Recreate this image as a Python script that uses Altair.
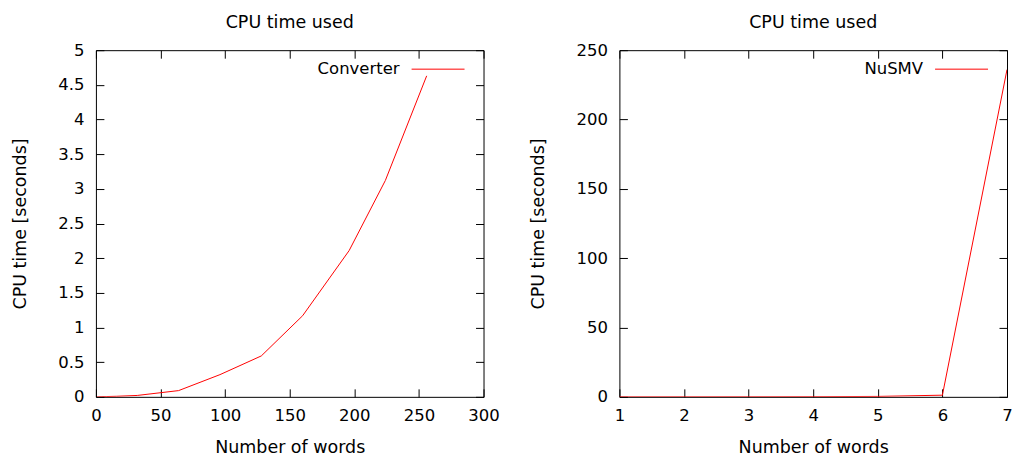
import altair as alt
import pandas as pd

# ---- data ----
conv_words = [1, 2, 4, 8, 16, 32, 64, 96, 128, 160, 196, 224, 256]
conv_time = [0.0, 0.0, 0.001, 0.004, 0.008, 0.02, 0.09, 0.32, 0.59, 1.17, 2.11, 3.12, 4.63]

nusmv_words = [1, 2, 3, 4, 5, 6, 7]
nusmv_time = [0.01, 0.02, 0.05, 0.1, 0.3, 1.2, 236]

conv_xticks = [0, 50, 100, 150, 200, 250, 300]
conv_yticks = [0, 0.5, 1, 1.5, 2, 2.5, 3, 3.5, 4, 4.5, 5]
nusmv_xticks = [1, 2, 3, 4, 5, 6, 7]
nusmv_yticks = [0, 50, 100, 150, 200, 250]

TITLE = "CPU time used"
XTITLE = "Number of words"
YTITLE = "CPU time [seconds]"

FONT = "DejaVu Sans"
FS = 16.5
TFS = 17.5
W, H = 388, 347
TICK = 8


def panel(words, times, name, xdom, ydom, xticks, yticks):
    df = pd.DataFrame({"words": words, "time": times})
    xs = alt.Scale(domain=xdom, nice=False, zero=False)
    ys = alt.Scale(domain=ydom, nice=False, zero=False)
    base = alt.Chart(df)

    line = base.mark_line(color="#ff0000", strokeWidth=1, clip=True).encode(
        x=alt.X("words:Q", scale=xs, axis=alt.Axis(
            orient="bottom", values=xticks, title=XTITLE, offset=-TICK, format="~r",
            tickSize=TICK, ticks=True, tickColor="#000", tickWidth=1,
            domain=False, grid=False, labelPadding=11, titlePadding=14,
            labelFlush=False, labelOverlap=False)),
        y=alt.Y("time:Q", scale=ys, axis=alt.Axis(
            orient="left", values=yticks, title=YTITLE, offset=-TICK, format="~r",
            tickSize=TICK, ticks=True, tickColor="#000", tickWidth=1,
            domain=False, grid=False, labelPadding=12, titlePadding=28,
            labelFlush=False, labelOverlap=False)),
    )

    mirror = base.mark_line(opacity=0).encode(
        x=alt.X("words:Q", scale=xs, axis=alt.Axis(
            orient="top", values=xticks, title=None, labels=False, offset=-TICK,
            tickSize=TICK, tickColor="#000", domain=False, grid=False)),
        y=alt.Y("time:Q", scale=ys, axis=alt.Axis(
            orient="right", values=yticks, title=None, labels=False, offset=-TICK,
            tickSize=TICK, tickColor="#000", domain=False, grid=False)),
    )

    key = pd.DataFrame({"label": [name]})
    key_text = alt.Chart(key).mark_text(
        align="right", baseline="middle", font=FONT, fontSize=FS, color="#000"
    ).encode(text="label:N", x=alt.value(W - 84), y=alt.value(19))
    key_line = alt.Chart(key).mark_rule(color="#ff0000", strokeWidth=1).encode(
        x=alt.value(W - 72), x2=alt.value(W - 19), y=alt.value(19)
    )

    return alt.layer(line, mirror, key_text, key_line).resolve_axis(
        x="independent", y="independent"
    ).properties(
        width=W, height=H,
        title=alt.TitleParams(TITLE, font=FONT, fontSize=TFS, fontWeight="normal",
                              color="#000", anchor="middle", offset=11),
    )


left = panel(conv_words, conv_time, "Converter", [0, 300], [0, 5],
             conv_xticks, conv_yticks)
right = panel(nusmv_words, nusmv_time, "NuSMV", [1, 7], [0, 250],
              nusmv_xticks, nusmv_yticks)

chart = alt.hconcat(left, right, spacing=29).configure(
    background="white",
    padding={"left": 3, "top": 5, "right": 0, "bottom": 0},
).configure_view(
    stroke="#000", strokeWidth=1
).configure_axis(
    labelFont=FONT, labelFontSize=FS, labelColor="#000",
    titleFont=FONT, titleFontSize=TFS, titleColor="#000", titleFontWeight="normal",
)

chart.save("out.html", embed_options={"renderer": "svg", "actions": False})
